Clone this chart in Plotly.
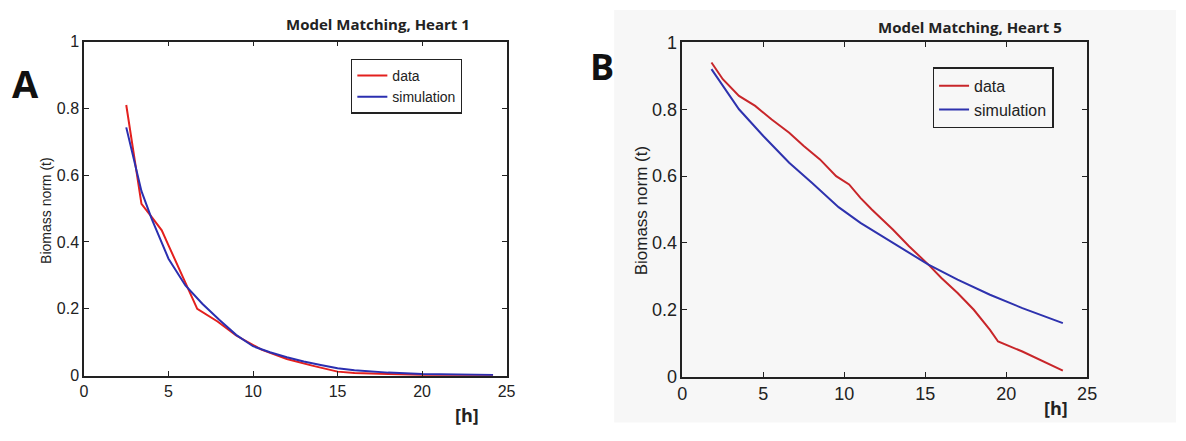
import plotly.graph_objects as go

W, H = 1186, 441

# ---------- Data: panel A (Heart 1) ----------
a_data_x = [2.5, 3.4, 4.0, 4.6, 5.0, 5.8, 6.7, 7.9, 9.0, 10.5, 12.0, 13.5, 15.0, 16.0, 18.0, 20.0, 24.2]
a_data_y = [0.81, 0.514, 0.475, 0.435, 0.39, 0.30, 0.20, 0.162, 0.12, 0.078, 0.05, 0.03, 0.012, 0.008, 0.004, 0.002, 0.001]
a_sim_x = [2.5, 3.4, 4.0, 5.0, 6.0, 7.0, 8.0, 9.0, 10.0, 11.0, 12.0, 13.0, 14.0, 15.0, 16.0, 18.0, 20.0, 22.0, 24.2]
a_sim_y = [0.743, 0.552, 0.47, 0.35, 0.27, 0.215, 0.167, 0.122, 0.088, 0.07, 0.055, 0.042, 0.032, 0.022, 0.016, 0.009, 0.005, 0.003, 0.002]

# ---------- Data: panel B (Heart 5) ----------
b_data_x = [1.8, 2.5, 3.5, 4.5, 5.5, 6.6, 7.5, 8.5, 9.5, 10.3, 11.0, 11.7, 13.0, 14.0, 15.2, 16.0, 17.0, 18.0, 19.0, 19.5, 21.0, 23.5]
b_data_y = [0.94, 0.89, 0.84, 0.81, 0.77, 0.73, 0.69, 0.65, 0.60, 0.575, 0.535, 0.50, 0.44, 0.39, 0.335, 0.295, 0.25, 0.20, 0.14, 0.105, 0.075, 0.018]
b_sim_x = [1.8, 2.5, 3.5, 5.0, 6.6, 8.0, 9.65, 11.0, 12.7, 14.0, 15.2, 17.0, 19.0, 21.0, 23.5]
b_sim_y = [0.92, 0.87, 0.80, 0.72, 0.64, 0.58, 0.507, 0.46, 0.41, 0.37, 0.335, 0.29, 0.245, 0.205, 0.16]

x_ticks = [0, 5, 10, 15, 20, 25]
y_ticks = [0, 0.2, 0.4, 0.6, 0.8, 1]
y_tick_text = ["0", "0.2", "0.4", "0.6", "0.8", "1"]
titles = ["Model Matching, Heart 1", "Model Matching, Heart 5"]
panel_letters = ["A", "B"]
series_names = ["data", "simulation"]

RED_A, BLUE_A = "#e3201e", "#2b2fb0"
RED_B, BLUE_B = "#c8262a", "#2e32ae"


def px(x):
    return x / W


def py(y):
    return 1 - y / H


fig = go.Figure()
fig.add_trace(go.Scatter(x=a_data_x, y=a_data_y, mode="lines", name=series_names[0],
                         line=dict(color=RED_A, width=2), xaxis="x", yaxis="y", legend="legend"))
fig.add_trace(go.Scatter(x=a_sim_x, y=a_sim_y, mode="lines", name=series_names[1],
                         line=dict(color=BLUE_A, width=2), xaxis="x", yaxis="y", legend="legend"))
fig.add_trace(go.Scatter(x=b_data_x, y=b_data_y, mode="lines", name=series_names[0],
                         line=dict(color=RED_B, width=2), xaxis="x2", yaxis="y2", legend="legend2"))
fig.add_trace(go.Scatter(x=b_sim_x, y=b_sim_y, mode="lines", name=series_names[1],
                         line=dict(color=BLUE_B, width=2), xaxis="x2", yaxis="y2", legend="legend2"))


def axis_common(fs):
    return dict(showline=True, linecolor="#222", linewidth=1.5, mirror="ticks",
                ticks="inside", ticklen=5, tickwidth=1.2, tickcolor="#222",
                showgrid=False, zeroline=False,
                tickfont=dict(family="Liberation Sans, Arial", size=fs, color="#222"))


fig.update_layout(
    width=W, height=H,
    margin=dict(l=0, r=0, t=0, b=0),
    paper_bgcolor="white", plot_bgcolor="rgba(0,0,0,0)",
    xaxis=dict(domain=[px(80), px(508)], range=[0, 25], tickvals=x_ticks, anchor="y",
               **axis_common(16)),
    yaxis=dict(domain=[py(383), py(33)], range=[0, 1], tickvals=y_ticks, ticktext=y_tick_text,
               anchor="x", **axis_common(16)),
    xaxis2=dict(domain=[px(686), px(1096)], range=[0, 25], tickvals=x_ticks, anchor="y2",
                **axis_common(18)),
    yaxis2=dict(domain=[py(384), py(34)], range=[0, 1], tickvals=y_ticks, ticktext=y_tick_text,
                anchor="x2", **axis_common(18)),
    legend=dict(x=px(463), y=py(51), xanchor="right", yanchor="top",
                bgcolor="white", bordercolor="#222", borderwidth=1.2,
                font=dict(family="Liberation Sans, Arial", size=14, color="#222"),
                itemwidth=30, tracegroupgap=0),
    legend2=dict(x=px(1062), y=py(60), xanchor="right", yanchor="top",
                 bgcolor="#f7f7f7", bordercolor="#222", borderwidth=1.5,
                 font=dict(family="Liberation Sans, Arial", size=16, color="#222"),
                 itemwidth=30, tracegroupgap=0),
    showlegend=True,
    shapes=[dict(type="rect", xref="paper", yref="paper", x0=px(617), x1=1, y0=py(432), y1=1,
                 fillcolor="#f7f7f7", line=dict(width=0), layer="below")],
)

ann = []
# titles
ann.append(dict(text=f"<b>{titles[0]}</b>", x=px(473), y=py(15), xref="paper", yref="paper",
                xanchor="right", yanchor="middle", showarrow=False,
                font=dict(family="Open Sans", size=15, color="#222")))
ann.append(dict(text=f"<b>{titles[1]}</b>", x=px(1073), y=py(18), xref="paper", yref="paper",
                xanchor="right", yanchor="middle", showarrow=False,
                font=dict(family="Open Sans", size=15, color="#222")))
# panel letters
ann.append(dict(text=f"<b>{panel_letters[0]}</b>", x=px(21), y=py(76), xref="paper", yref="paper",
                xanchor="center", yanchor="middle", showarrow=False,
                font=dict(family="Open Sans", size=38, color="#111")))
ann.append(dict(text=f"<b>{panel_letters[1]}</b>", x=px(605), y=py(59), xref="paper", yref="paper",
                xanchor="center", yanchor="middle", showarrow=False,
                font=dict(family="Open Sans", size=36, color="#111")))
# axis titles
ann.append(dict(text="<b>[h]</b>", x=px(468), y=py(424), xref="paper", yref="paper",
                xanchor="center", yanchor="middle", showarrow=False,
                font=dict(family="Open Sans", size=18, color="#222")))
ann.append(dict(text="<b>[h]</b>", x=px(1064), y=py(417), xref="paper", yref="paper",
                xanchor="center", yanchor="middle", showarrow=False,
                font=dict(family="Open Sans", size=18, color="#222")))
ann.append(dict(text="Biomass norm (t)", x=px(42), y=py(210), xref="paper", yref="paper",
                xanchor="center", yanchor="middle", showarrow=False, textangle=-90,
                font=dict(family="Liberation Sans, Arial", size=14, color="#222")))
ann.append(dict(text="Biomass norm (t)", x=px(645), y=py(210), xref="paper", yref="paper",
                xanchor="center", yanchor="middle", showarrow=False, textangle=-90,
                font=dict(family="Liberation Sans, Arial", size=17, color="#222")))
fig.update_layout(annotations=ann)

# remove the browser's default 8px body margin so the figure fills the window exactly
fig.write_html("out.html",
               post_script="document.body.style.margin='0';document.body.style.overflow='hidden';")
